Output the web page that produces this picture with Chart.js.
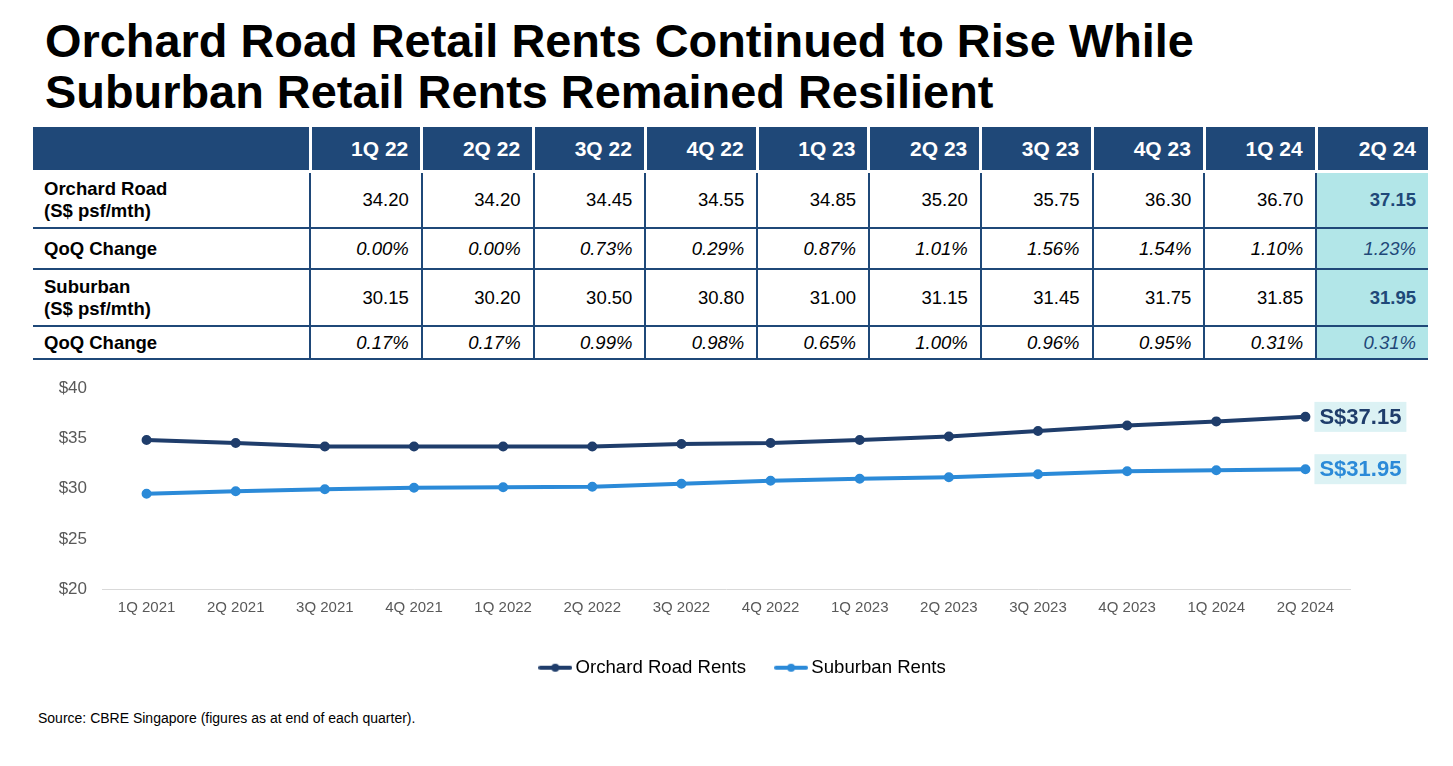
<!DOCTYPE html>
<html>
<head>
<meta charset="utf-8">
<script src="https://cdn.jsdelivr.net/npm/chart.js@4.4.1/dist/chart.umd.min.js"></script>
<style>
  body { margin: 0; width: 1453px; height: 766px; background: #fff; font-family: "Liberation Sans", Arial, sans-serif; position: relative; overflow: hidden; }
  h1 { position: absolute; left: 45px; top: 16px; margin: 0; font-size: 46.9px; line-height: 51px; font-weight: bold; color: #000; }
  table { position: absolute; left: 33px; top: 127px; border-collapse: collapse; table-layout: fixed; width: 1395px; }
  th { background: #1f4878; color: #fff; font-size: 21px; font-weight: bold; text-align: right; padding: 0 12px 0 0; height: 43px; border-left: 3px solid #fff; border-bottom: 3px solid #fff; }
  th:first-child { border-left: none; }
  td { font-size: 18.5px; text-align: right; padding: 0 12px 0 0; border-left: 2px solid #1f4878; border-bottom: 2px solid #1f4878; color: #000; }
  td.lbl { text-align: left; padding-left: 11px; font-weight: bold; border-left: none; line-height: 22px; }
  td.pct { font-style: italic; }
  td.hl { background: #b2e6e8; color: #1f4878; }
  td.hl.num { font-weight: bold; }
  tr.r0 td { height: 54px; }
  tr.r1 td { height: 39px; }
  tr.r2 td { height: 55px; }
  tr.r3 td { height: 31px; }
  #chartBox { position: absolute; left: 0; top: 363px; width: 1453px; height: 331px; }
  .src { position: absolute; left: 38px; top: 710px; font-size: 14px; color: #000; }
</style>
</head>
<body>
<h1>Orchard Road Retail Rents Continued to Rise While<br>Suburban Retail Rents Remained Resilient</h1>
<table id="rentTable"></table>
<div id="chartBox"><canvas id="rentChart"></canvas></div>
<div class="src">Source: CBRE Singapore (figures as at end of each quarter).</div>
<script>
// table data
const tableQuarters = ['1Q 22', '2Q 22', '3Q 22', '4Q 22', '1Q 23', '2Q 23', '3Q 23', '4Q 23', '1Q 24', '2Q 24'];
const orchardTable = ['34.20', '34.20', '34.45', '34.55', '34.85', '35.20', '35.75', '36.30', '36.70', '37.15'];
const orchardQoq = ['0.00%', '0.00%', '0.73%', '0.29%', '0.87%', '1.01%', '1.56%', '1.54%', '1.10%', '1.23%'];
const suburbanTable = ['30.15', '30.20', '30.50', '30.80', '31.00', '31.15', '31.45', '31.75', '31.85', '31.95'];
const suburbanQoq = ['0.17%', '0.17%', '0.99%', '0.98%', '0.65%', '1.00%', '0.96%', '0.95%', '0.31%', '0.31%'];

// chart data
const chartQuarters = ['1Q 2021', '2Q 2021', '3Q 2021', '4Q 2021', '1Q 2022', '2Q 2022', '3Q 2022', '4Q 2022', '1Q 2023', '2Q 2023', '3Q 2023', '4Q 2023', '1Q 2024', '2Q 2024'];
const orchardRents = [34.85, 34.55, 34.2, 34.2, 34.2, 34.2, 34.45, 34.55, 34.85, 35.2, 35.75, 36.3, 36.7, 37.15];
const suburbanRents = [29.5, 29.75, 29.95, 30.1, 30.15, 30.2, 30.5, 30.8, 31.0, 31.15, 31.45, 31.75, 31.85, 31.95];

const navy = '#1f3d6b';
const lightBlue = '#2b8ad8';

// build table
const tbl = document.getElementById('rentTable');
let html = '<colgroup><col style="width:277px">' + tableQuarters.map(() => '<col>').join('') + '</colgroup>';
html += '<tr><th></th>' + tableQuarters.map(q => `<th>${q}</th>`).join('') + '</tr>';
const rows = [
  { label: 'Orchard Road<br>(S$ psf/mth)', vals: orchardTable, pct: false },
  { label: 'QoQ Change', vals: orchardQoq, pct: true },
  { label: 'Suburban<br>(S$ psf/mth)', vals: suburbanTable, pct: false },
  { label: 'QoQ Change', vals: suburbanQoq, pct: true }
];
rows.forEach((r, ri) => {
  html += `<tr class="r${ri}"><td class="lbl">${r.label}</td>`;
  r.vals.forEach((v, i) => {
    const cls = [r.pct ? 'pct' : 'num'];
    if (i === r.vals.length - 1) cls.push('hl');
    html += `<td class="${cls.join(' ')}">${v}</td>`;
  });
  html += '</tr>';
});
tbl.innerHTML = html;

// legend marker: thick line with a dot in the middle
function legendMarker(color) {
  const c = document.createElement('canvas');
  c.width = 34;
  c.height = 10;
  const g = c.getContext('2d');
  g.strokeStyle = color;
  g.lineWidth = 4;
  g.lineCap = 'round';
  g.beginPath();
  g.moveTo(2, 5);
  g.lineTo(32, 5);
  g.stroke();
  g.fillStyle = color;
  g.beginPath();
  g.arc(17, 5, 4, 0, Math.PI * 2);
  g.fill();
  return c;
}

// end-of-line value labels
const endLabels = {
  id: 'endLabels',
  afterLayout(chart) {
    // nudge the legend right so it sits where the original one does
    chart.legend.left += 70;
    chart.legend.right += 70;
  },
  afterDatasetsDraw(chart) {
    const ctx = chart.ctx;
    ctx.save();
    ctx.font = 'bold 22px "Liberation Sans", Arial, sans-serif';
    ctx.textBaseline = 'middle';
    chart.data.datasets.forEach((ds, i) => {
      const meta = chart.getDatasetMeta(i);
      const pt = meta.data[meta.data.length - 1];
      const text = 'S$' + ds.data[ds.data.length - 1].toFixed(2);
      const w = ctx.measureText(text).width;
      ctx.fillStyle = '#dcf2f4';
      ctx.fillRect(pt.x + 9, pt.y - 15, w + 10, 30);
      ctx.fillStyle = ds.borderColor;
      ctx.fillText(text, pt.x + 14, pt.y + 1);
    });
    ctx.restore();
  }
};

new Chart(document.getElementById('rentChart'), {
  type: 'line',
  data: {
    labels: chartQuarters,
    datasets: [
      {
        label: 'Orchard Road Rents',
        data: orchardRents,
        borderColor: navy,
        backgroundColor: navy,
        borderWidth: 4,
        pointRadius: 3,
        pointHoverRadius: 3,
        tension: 0
      },
      {
        label: 'Suburban Rents',
        data: suburbanRents,
        borderColor: lightBlue,
        backgroundColor: lightBlue,
        borderWidth: 4,
        pointRadius: 3,
        pointHoverRadius: 3,
        tension: 0
      }
    ]
  },
  options: {
    responsive: true,
    maintainAspectRatio: false,
    animation: false,
    layout: { padding: { top: 24, right: 103, bottom: 7, left: 0 } },
    plugins: {
      legend: {
        position: 'bottom',
        labels: {
          color: '#000',
          font: { family: '"Liberation Sans", Arial, sans-serif', size: 18.6 },
          usePointStyle: true,
          pointStyleWidth: 22,
          padding: 34,
          generateLabels(chart) {
            const items = Chart.defaults.plugins.legend.labels.generateLabels(chart);
            items.forEach(it => { it.pointStyle = legendMarker(chart.data.datasets[it.datasetIndex].borderColor); });
            return items;
          }
        }
      },
      tooltip: { enabled: false }
    },
    scales: {
      x: {
        offset: true,
        grid: { display: false, drawTicks: false },
        border: { display: true, color: '#d9d9d9', width: 1 },
        ticks: { color: '#595959', font: { family: '"Liberation Sans", Arial, sans-serif', size: 15 }, padding: 9, maxRotation: 0, autoSkip: false },
        afterFit(scale) { scale.height = 35; }
      },
      y: {
        min: 20,
        max: 40,
        grid: { display: false, drawTicks: false },
        border: { display: false },
        ticks: {
          stepSize: 5,
          color: '#595959',
          font: { family: '"Liberation Sans", Arial, sans-serif', size: 17 },
          padding: 15,
          callback: v => '$' + v
        },
        afterFit(scale) { scale.width = 102; }
      }
    }
  },
  plugins: [endLabels]
});
</script>
</body>
</html>
